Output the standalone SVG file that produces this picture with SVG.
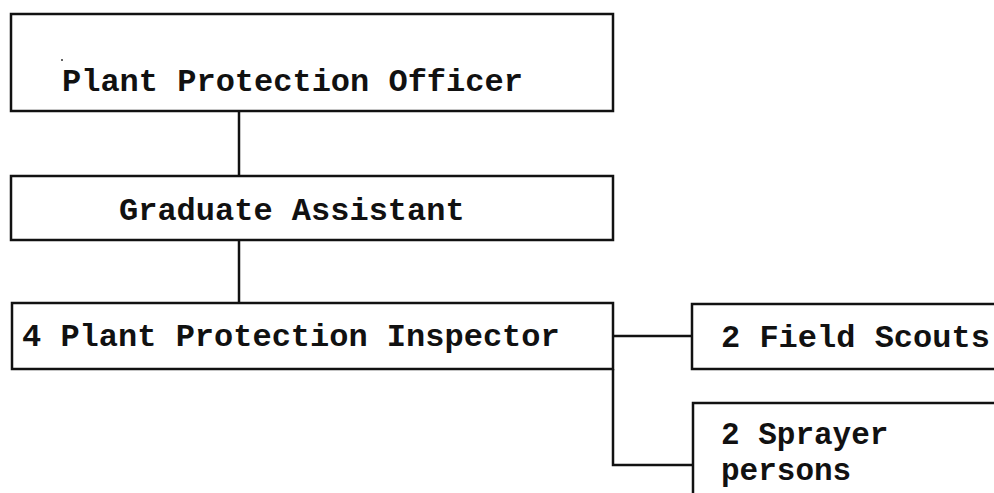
<svg xmlns="http://www.w3.org/2000/svg" width="994" height="493" viewBox="0 0 994 493">
  <style>
    .box { fill: #ffffff; stroke: #111111; stroke-width: 2.5; }
    .link { fill: none; stroke: #111111; stroke-width: 2.5; }
    .label { font-family: "Liberation Mono", "Courier New", monospace; font-weight: bold; font-size: 32px; fill: #111111; }
    .tight { font-size: 31px; }
  </style>
  <rect width="994" height="493" fill="#ffffff"/>

  <!-- connectors -->
  <g id="connectors">
    <line class="link" x1="239" y1="111" x2="239" y2="176"/>
    <line class="link" x1="239" y1="240" x2="239" y2="303"/>
    <polyline class="link" points="613,369 613,465 692,465"/>
    <line class="link" x1="613" y1="336" x2="692" y2="336"/>
  </g>

  <g id="officer">
    <rect class="box" x="11" y="14" width="602" height="97"/>
    <circle cx="62" cy="60" r="1" fill="#333"/>
    <text class="label" x="62" y="91">Plant Protection Officer</text>
  </g>

  <g id="assistant">
    <rect class="box" x="11" y="176" width="602" height="64"/>
    <text class="label" x="119" y="220">Graduate Assistant</text>
  </g>

  <g id="inspector">
    <rect class="box" x="12" y="303" width="601" height="66"/>
    <text class="label" x="22" y="346">4 Plant Protection Inspector</text>
  </g>

  <g id="scouts">
    <rect class="box" x="692" y="304" width="320" height="65"/>
    <text class="label" x="721" y="347">2 Field Scouts</text>
  </g>

  <g id="sprayers">
    <rect class="box" x="693" y="403" width="320" height="120"/>
    <text class="label tight" x="721" y="444">2 Sprayer</text>
    <text class="label tight" x="721" y="480">persons</text>
  </g>
</svg>
